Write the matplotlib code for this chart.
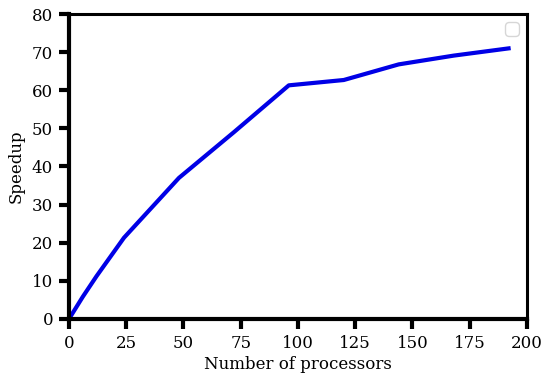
import matplotlib
matplotlib.use("Agg")
import matplotlib.pyplot as plt

processors = [0, 6, 12, 24, 48, 72, 96, 120, 144, 168, 192]
speedup = [0, 5.8, 11.2, 21.3, 37.0, 49.0, 61.3, 62.7, 66.8, 69.1, 71.0]

plt.rc('font', family='DejaVu Serif', size=12)

fig = plt.figure(figsize=(5.5, 3.81), dpi=100)
ax = fig.add_axes([0.1255, 0.163, 0.8325, 0.8])
ax.plot(processors, speedup, color='#0000e6', linewidth=3)
ax.set_xlim(0, 200)
ax.set_ylim(0, 80)
ax.set_xticks([0, 25, 50, 75, 100, 125, 150, 175, 200])
ax.set_yticks([0, 10, 20, 30, 40, 50, 60, 70, 80])
ax.set_xlabel("Number of processors", labelpad=3)
ax.set_ylabel("Speedup", labelpad=5)
ax.spines['left'].set_linewidth(3)
ax.spines['bottom'].set_linewidth(3)
ax.spines['top'].set_linewidth(2.2)
ax.spines['right'].set_linewidth(2.2)
ax.tick_params(width=3, length=7, pad=4.5)
ax.legend()
fig.savefig("out.png")
